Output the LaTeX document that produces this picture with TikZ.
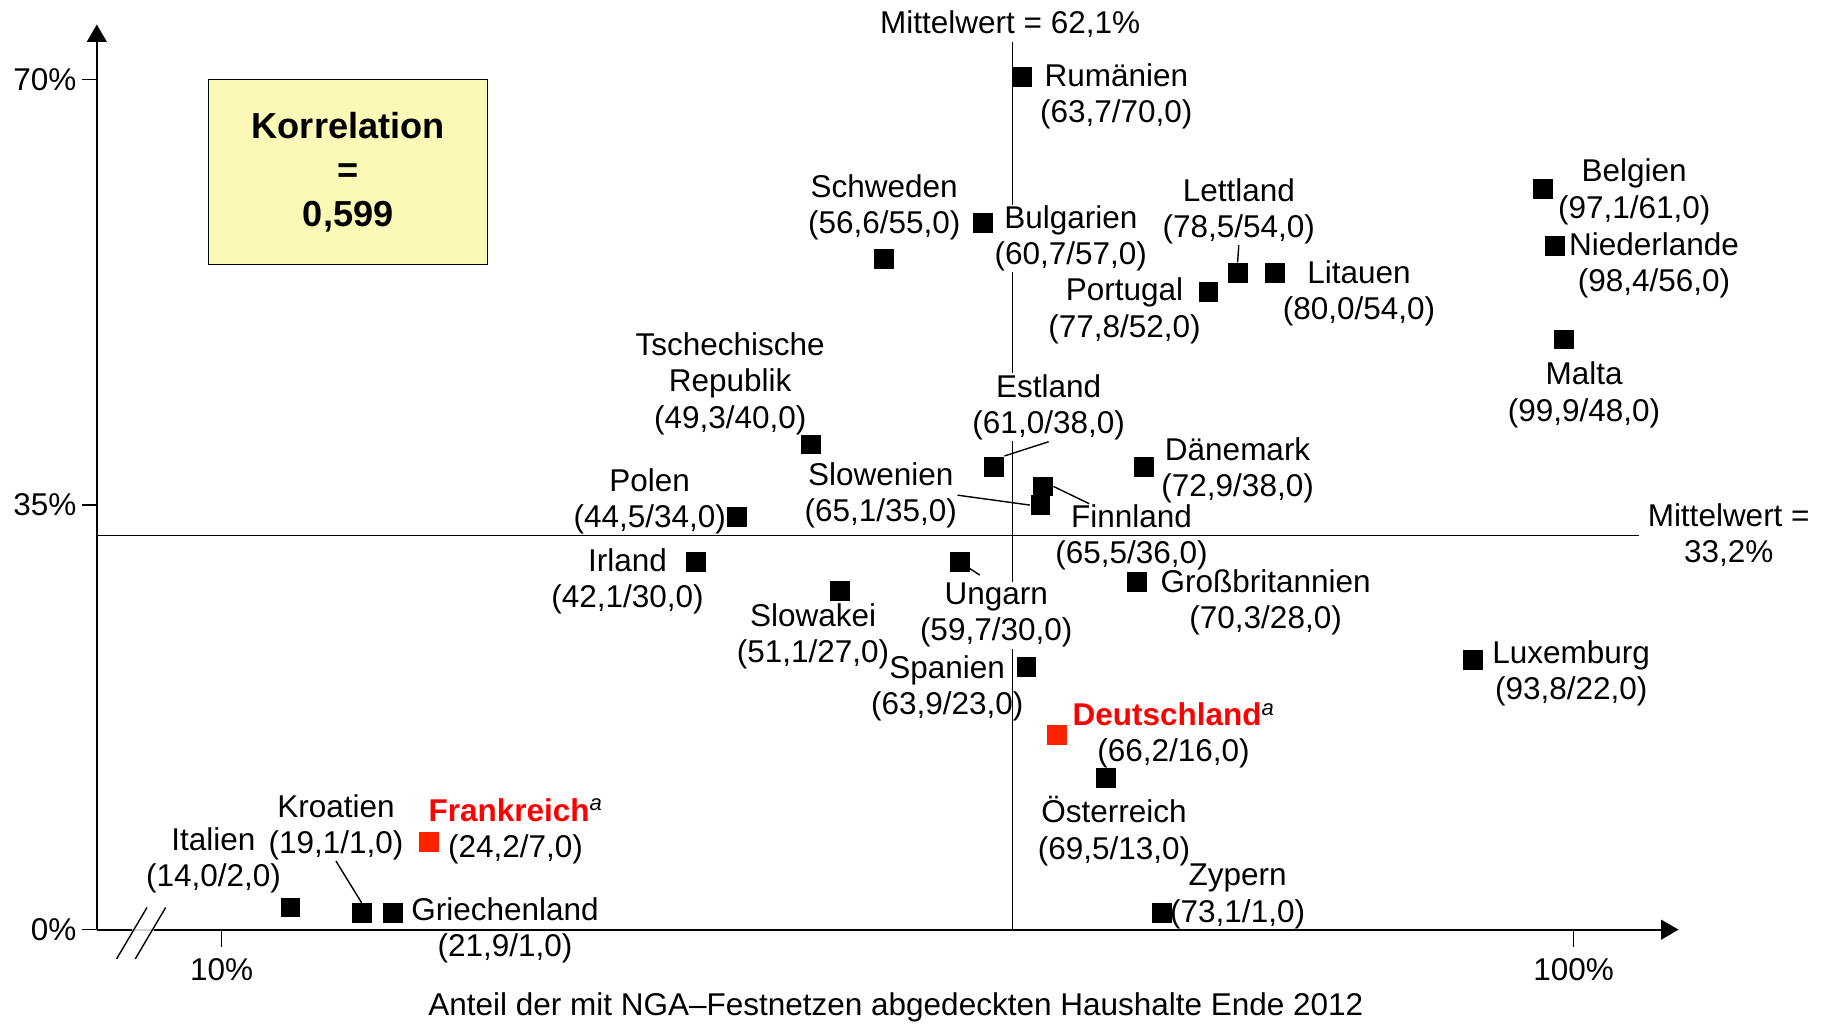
\documentclass[tikz,border=0pt]{standalone}
\usepackage{fontspec}
\setmainfont{Liberation Sans}
\usetikzlibrary{positioning,arrows.meta,calc}
\definecolor{boxyellow}{RGB}{250,250,182}
\definecolor{dered}{RGB}{255,34,0}
\tikzset{
  pt/.style={fill=black, minimum size=17pt, inner sep=0pt},
  redpt/.style={pt, fill=dered},
  lbl/.style={align=center, inner sep=0pt, font=\fontsize{27}{31}\selectfont, yshift=-2pt},
  knock/.style={lbl, fill=white, inner sep=1pt},
  axis/.style={line width=1.6pt, -{Triangle[length=15pt,width=17pt]}}
}
\begin{document}
\begin{tikzpicture}[x=1pt, y=-1pt, line width=1.2pt]
	\useasboundingbox (0,0) rectangle (1568,879);
	\draw (868,36) -- (868,797); \draw (83,459) -- (1405,459);
	\coordinate (o) at (83,797);
	\draw[axis] (o) -- (83,21); \draw[axis] (o) -- (1439,797);
	\foreach \yv/\txt in {68/70, 433/35, 797/0} {\draw (70,\yv) -- (83,\yv);
		\node[lbl, anchor=east, yshift=2pt] (yt-\txt) at (66,\yv) {\txt\%};}
	\foreach \xv/\txt in {190/10, 1349/100} {\draw (\xv,797) -- (\xv,812);
		\node[lbl] (xt-\txt) at (\xv,829) {\txt\%};}
	\draw[gray!35, line width=1.6pt] (113,797) -- (132,797);
	\draw (100,822) -- (126,778); \draw (116,822) -- (142,778);
	\node[lbl] (xlab) at (768,862) {Anteil der mit NGA–Festnetzen abgedeckten Haushalte Ende 2012};
	\node[lbl] (mv-x) at (866,19) {Mittelwert = 62,1\%};
	\node[lbl] (mv-y) at (1482,456.5) {Mittelwert =\\33,2\%};
	\node[draw, fill=boxyellow, minimum width=239pt, minimum height=159pt, align=center,
		font=\fontsize{31}{38}\selectfont\bfseries] (korr) at (298.5,147.5) {Korrelation\\=\\0,599};
	\node[lbl] (rum-l) at (957,80.5) {Rumänien\\(63,7/70,0)};
	\node[lbl] (schw-l) at (758,175.5) {Schweden\\(56,6/55,0)};
	\node[knock] (bul-l) at (918,202.5) {Bulgarien\\(60,7/57,0)};
	\node[lbl] (lett-l) at (1062,179.5) {Lettland\\(78,5/54,0)};
	\node[lbl] (port-l) at (964,264.5) {Portugal\\(77,8/52,0)};
	\node[lbl] (lit-l) at (1165,249.5) {Litauen\\(80,0/54,0)};
	\node[lbl] (bel-l) at (1401,162.5) {Belgien\\(97,1/61,0)};
	\node[lbl] (nl-l) at (1418,225.5) {Niederlande\\(98,4/56,0)};
	\node[lbl] (mal-l) at (1358,336.5) {Malta\\(99,9/48,0)};
	\node[lbl] (cz-l) at (626,327) {Tschechische\\Republik\\(49,3/40,0)};
	\node[knock] (est-l) at (899,347) {Estland\\(61,0/38,0)};
	\node[lbl] (dk-l) at (1061,401.5) {Dänemark\\(72,9/38,0)};
	\node[lbl] (slo-l) at (755,422.5) {Slowenien\\(65,1/35,0)};
	\node[lbl] (fin-l) at (970,458.5) {Finnland\\(65,5/36,0)};
	\node[lbl] (pol-l) at (557,428) {Polen\\(44,5/34,0)};
	\node[lbl] (irl-l) at (538,496.5) {Irland\\(42,1/30,0)};
	\node[lbl] (svk-l) at (697,543.5) {Slowakei\\(51,1/27,0)};
	\node[knock] (ung-l) at (854,525.5) {Ungarn\\(59,7/30,0)};
	\node[lbl] (gb-l) at (1085,514.5) {Großbritannien\\(70,3/28,0)};
	\node[lbl] (esp-l) at (812,588) {Spanien\\(63,9/23,0)};
	\node[lbl] (lux-l) at (1347,575.5) {Luxemburg\\(93,8/22,0)};
	\node[lbl] (de-l) at (1006,628.5) {\textcolor{red}{\bfseries Deutschland}\textsuperscript{\itshape a}\\(66,2/16,0)};
	\node[lbl] (aut-l) at (955,710.5) {Österreich\\(69,5/13,0)};
	\node[lbl] (cy-l) at (1061,766.5) {Zypern\\(73,1/1,0)};
	\node[lbl] (it-l) at (183,735.5) {Italien\\(14,0/2,0)};
	\node[lbl] (hr-l) at (288,707.5) {Kroatien\\(19,1/1,0)};
	\node[lbl] (gr-l) at (433,795.5) {Griechenland\\(21,9/1,0)};
	\node[lbl] (fr-l) at (442,710.5) {\textcolor{red}{\bfseries Frankreich}\textsuperscript{\itshape a}\\(24,2/7,0)};
	\node[pt] (rum) at (876,66) {}; \node[pt] (schw) at (758,222) {};
	\node[pt] (bul) at (843,191) {}; \node[pt] (lett) at (1061,234) {};
	\node[pt] (port) at (1036,250) {}; \node[pt] (lit) at (1093,234) {};
	\node[pt] (bel) at (1323,162) {}; \node[pt] (nl) at (1333,211) {};
	\node[pt] (mal) at (1341,291) {}; \node[pt] (cz) at (695,381) {};
	\node[pt] (est) at (852,400) {}; \node[pt] (dk) at (981,400) {};
	\node[pt] (fin) at (894,417) {}; \node[pt] (slo) at (892,433) {};
	\node[pt] (pol) at (632,443) {}; \node[pt] (irl) at (597,482) {};
	\node[pt] (svk) at (720,507) {}; \node[pt] (ung) at (823,482) {};
	\node[pt] (gb) at (975,499) {}; \node[pt] (esp) at (880,572) {};
	\node[pt] (lux) at (1263,566) {}; \node[redpt] (de) at (906,630) {};
	\node[pt] (aut) at (948,667) {}; \node[pt] (cy) at (996,783) {};
	\node[pt] (it) at (249,778) {}; \node[pt] (hr) at (310,783) {};
	\node[pt] (gr) at (337,783) {}; \node[redpt] (fr) at (368,722) {};
	\coordinate (ung-e) at (840,493);
	\draw (lett-l.south) -- (lett.north); \draw (est.north east) -- (est-l.south);
	\draw (slo-l.east) -- (slo.west);
	\draw (fin.east) -- ($(fin-l.north west)!0.45!(fin-l.north)$);
	\draw (ung.center) -- (ung-e); \draw (hr-l.south) -- (hr.north);
\end{tikzpicture}
\end{document}
